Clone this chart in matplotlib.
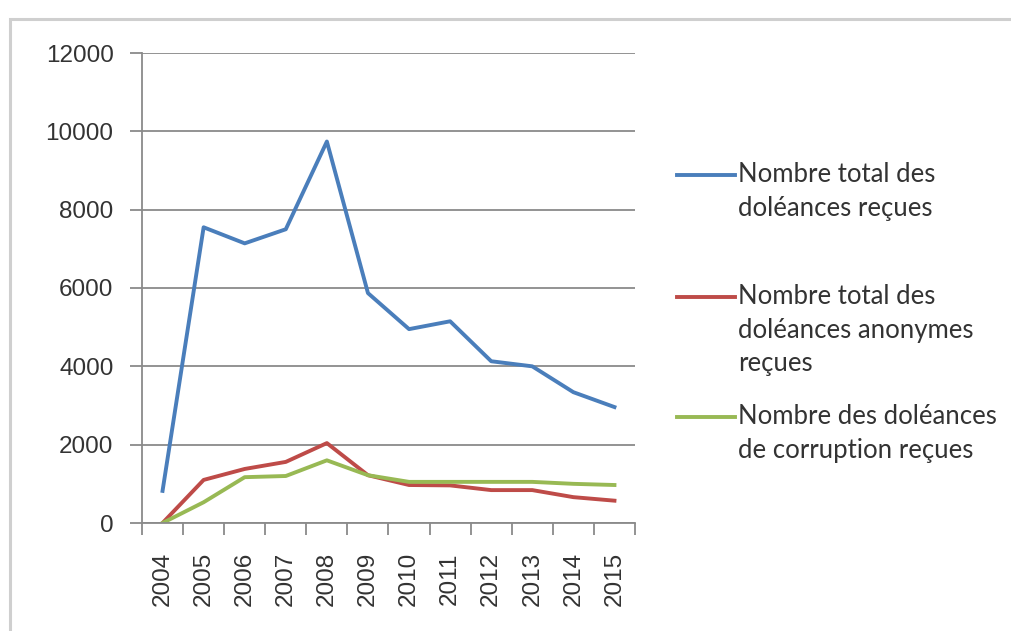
import matplotlib.pyplot as plt
import numpy as np
from matplotlib.patches import Rectangle
from matplotlib.lines import Line2D

# ----------------------------
# données
# ----------------------------
annees = ["2004", "2005", "2006", "2007", "2008", "2009",
          "2010", "2011", "2012", "2013", "2014", "2015"]

total_recues = [820, 7550, 7140, 7500, 9740, 5870, 4950, 5150, 4130, 4000, 3340, 2960]
anonymes = [0, 1100, 1380, 1560, 2040, 1220, 970, 960, 840, 840, 660, 570]
corruption = [0, 530, 1170, 1200, 1600, 1220, 1050, 1050, 1050, 1050, 1000, 970]

labels = ["Nombre total des\ndoléances reçues",
          "Nombre total des\ndoléances anonymes\nreçues",
          "Nombre des doléances\nde corruption reçues"]
couleurs = ["#4A7EBB", "#BE4B48", "#98B954"]

W, H = 1012, 631

# ----------------------------
# figure
# ----------------------------
fig = plt.figure(figsize=(W / 100, H / 100), dpi=100)
fig.patches.append(Rectangle((10 / W, -0.05), 1.2, 1.05 - 19 / H,
                             transform=fig.transFigure, fill=False,
                             edgecolor="#cfcfcf", linewidth=2.2))

ax = fig.add_axes([142 / W, 1 - 523 / H, 493 / W, 470 / H])

x = np.arange(len(annees))
for serie, lab, col in zip([total_recues, anonymes, corruption], labels, couleurs):
    ax.plot(x, serie, color=col, linewidth=2.8, label=lab, solid_joinstyle="round")

ax.set_xlim(-0.5, len(annees) - 0.5)
ax.set_ylim(0, 12000)
ax.set_yticks(np.arange(0, 12001, 2000))
ax.yaxis.grid(True, color="#8a8a8a", linewidth=1.3)
ax.set_axisbelow(True)

ax.set_xticks(x)
ax.set_xticklabels(annees, rotation=90, fontfamily="Liberation Sans")
ax.set_yticklabels([str(v) for v in range(0, 12001, 2000)], fontfamily="Liberation Sans")
ax.set_xticks(np.arange(-0.5, len(annees), 1), minor=True)
ax.tick_params(axis="x", which="major", length=0, pad=21)
ax.tick_params(axis="x", which="minor", length=8.5, color="#8a8a8a", width=1.3)
ax.tick_params(axis="y", length=8.5, color="#8a8a8a", width=1.3, pad=12)
ax.tick_params(labelsize=17.5, labelcolor="#333333")

for s in ["top", "right"]:
    ax.spines[s].set_visible(False)
for s in ["left", "bottom"]:
    ax.spines[s].set_color("#8a8a8a")
    ax.spines[s].set_linewidth(1.3)

# ----------------------------
# légende (ligne alignée sur la première ligne du texte, comme Excel)
# ----------------------------
y_premiere = [175, 297, 417]
for lab, col, y0 in zip(labels, couleurs, y_premiere):
    fig.add_artist(Line2D([677 / W, 735 / W], [1 - y0 / H, 1 - y0 / H],
                          transform=fig.transFigure, color=col, linewidth=2.8))
    for i, ligne in enumerate(lab.split("\n")):
        fig.text(738 / W, 1 - (y0 + i * 33.5) / H, ligne, family="Lato",
                 size=18.5, color="#333333", va="center", ha="left")

plt.savefig("out.png", dpi=100)
